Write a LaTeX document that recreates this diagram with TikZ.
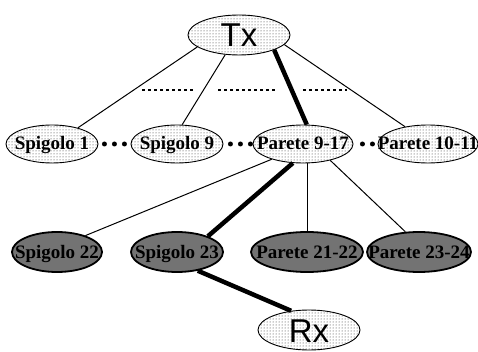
\documentclass[tikz,border=0pt]{standalone}
\usepackage{fontspec}
\setmainfont{Liberation Serif}
\newfontfamily\txfont{Liberation Sans}
\usetikzlibrary{shapes.geometric, patterns}

\begin{document}
\begin{tikzpicture}[x=1pt, y=-1pt,
  base/.style={ellipse, draw, inner sep=0pt, minimum width=92pt, minimum height=38pt,
    font=\fontsize{19}{19}\selectfont\bfseries, text height=12pt, text depth=0pt,
    execute at begin node={\hbox to 0pt\bgroup\hss}, execute at end node={\hss\egroup}},
  el/.style={base, line width=0.9pt, pattern=dots, pattern color=black!85},
  eld/.style={base, line width=1.8pt, fill=black!55, minimum height=40pt},
  tx/.style={el, minimum width=102pt, minimum height=40pt,
    font=\txfont\fontsize{33}{33}\selectfont, text height=24pt},
  ln/.style={line width=1pt},
  thk/.style={line width=4.5pt},
  dl/.style={line width=5pt, line cap=round, dash pattern=on 0pt off 10pt},
  sep/.style={line width=2.5pt, dash pattern=on 3pt off 3pt}]
  \useasboundingbox (0,0) rectangle (478,352);
  \node[tx] (tx) at (239,35) {Tx};
  \node[el] (sp1) at (52,144) {Spigolo 1};
  \node[el] (sp9) at (177,144) {Spigolo 9};
  \node[el, minimum width=100pt] (pa917) at (303,144) {Parete 9-17};
  \node[el, minimum width=100pt] (pa1011) at (428,144) {Parete 10-11};
  \node[eld, minimum width=90pt] (sp22) at (57,252) {Spigolo 22};
  \node[eld] (sp23) at (177,252) {Spigolo 23};
  \node[eld, minimum width=112pt] (pa2122) at (307,252) {Parete 21-22};
  \node[eld, minimum width=104pt] (pa2324) at (419,252) {Parete 23-24};
  \node[tx] (rx) at (309,330) {Rx};
  \draw[ln] (tx.196) -- (sp1.32);
  \draw[ln] (tx.235) -- (sp9.75);
  \draw[thk] (tx.337) -- (pa917.79);
  \draw[ln] (tx.348) -- (pa1011.143);
  \coordinate (s1a) at (142,90); \coordinate (s1b) at (193,90);
  \coordinate (s2a) at (218,90); \coordinate (s2b) at (275,90);
  \coordinate (s3a) at (303,90); \coordinate (s3b) at (347,90);
  \draw[sep] (s1a) -- (s1b); \draw[sep] (s2a) -- (s2b); \draw[sep] (s3a) -- (s3b);
  \draw[dl, shorten <=6pt, shorten >=5pt] (sp1) -- (sp9);
  \draw[dl, shorten <=7pt, shorten >=1pt] (sp9) -- (pa917);
  \draw[dl, shorten <=9pt, shorten >=4pt] (pa917) -- (pa1011);
  \draw[ln] (pa917.206) -- (sp22.30);
  \draw[thk] (pa917.242) -- (sp23.27);
  \draw[ln] (pa2122) -- (pa2122 |- pa917.south);
  \draw[ln] (pa917.329) -- (pa2324.124);
  \draw[thk] (sp23.318) -- (rx.133);
\end{tikzpicture}
\end{document}
